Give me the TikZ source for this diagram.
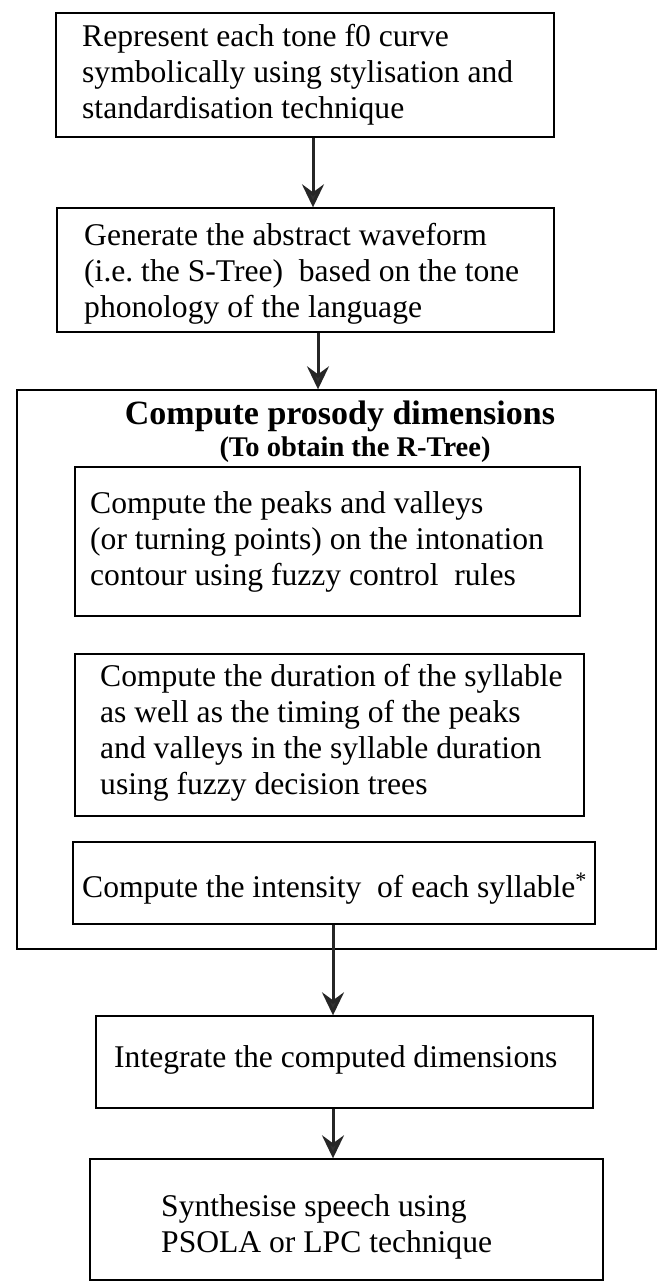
\documentclass[tikz,border=0pt]{standalone}
\usepackage{fontspec}
\setmainfont{Liberation Serif}
\usetikzlibrary{arrows.meta}
\frenchspacing
\begin{document}
\begin{tikzpicture}[x=1pt,y=-1pt,
  frame/.style={draw, line width=1.4pt, inner sep=0pt, rectangle},
  % multi-line texts: the base anchor sits on the last line
  body/.style={anchor=base west, inner sep=0pt, align=left,
    font=\fontsize{31.6}{36}\selectfont},
  flow/.style={line width=3pt, draw=black!85,
    -{Stealth[length=23pt,width=22pt,inset=8pt,fill=black!80]}},
]
\useasboundingbox (0,0) rectangle (657,1282);

% first two steps
\node[frame, minimum width=498pt, minimum height=124pt] (b1) at (305,75) {};
\node[body] (b1t) at (82,118) {Represent each tone f0 curve\\symbolically using stylisation and\\standardisation technique};

\node[frame, minimum width=497pt, minimum height=124pt] (b2) at (305.5,270) {};
\node[body] (b2t) at (84,317) {Generate the abstract waveform\\(i.e.\ the S-Tree)\ \ based on the tone\\phonology of the language};

% prosody block
\node[frame, minimum width=639pt, minimum height=559pt] (pro) at (336.5,669.5) {};
\node[anchor=base, inner sep=0pt, font=\bfseries\fontsize{34}{38}\selectfont] (pt1) at (340,424) {Compute prosody dimensions};
\node[anchor=base, inner sep=0pt, font=\bfseries\fontsize{28.5}{32}\selectfont] (pt2) at (355,456) {(To obtain the R-Tree)};

\node[frame, minimum width=505pt, minimum height=149pt] (ca) at (327.5,541.5) {};
\node[body] (cat) at (90,585) {Compute the peaks and valleys\\(or turning points) on the intonation\\contour using fuzzy control\ \ rules};

\node[frame, minimum width=509pt, minimum height=162pt] (cb) at (329.5,735) {};
\node[body] (cbt) at (100,794) {Compute the duration of the syllable\\as well as the timing of the peaks\\and valleys in the syllable duration\\using fuzzy decision trees};

\node[frame, minimum width=522pt, minimum height=82pt] (cc) at (334,883) {};
\node[body] (cct) at (82,897) {Compute the intensity\ \ of each syllable\textsuperscript{*}};

% last two steps
\node[frame, minimum width=497pt, minimum height=92pt] (b3) at (344.5,1062) {};
\node[body] (b3t) at (114,1067) {Integrate the computed dimensions};

\node[frame, minimum width=513pt, minimum height=121pt] (b4) at (346.5,1219.5) {};
\node[body] (b4t) at (161,1252) {Synthesise speech using\\PSOLA or LPC technique};

% connectors
\draw[flow] ([xshift=8pt]b1.south) -- ([xshift=8pt]b1.south |- b2.north);
\draw[flow] ([xshift=12.5pt]b2.south) -- ([xshift=12.5pt]b2.south |- pro.north);
\draw[flow] ([xshift=-1pt]cc.south) -- ([xshift=-1pt]cc.south |- b3.north);
\draw[flow] ([xshift=-11.5pt]b3.south) -- ([xshift=-11.5pt]b3.south |- b4.north);
\end{tikzpicture}
\end{document}
